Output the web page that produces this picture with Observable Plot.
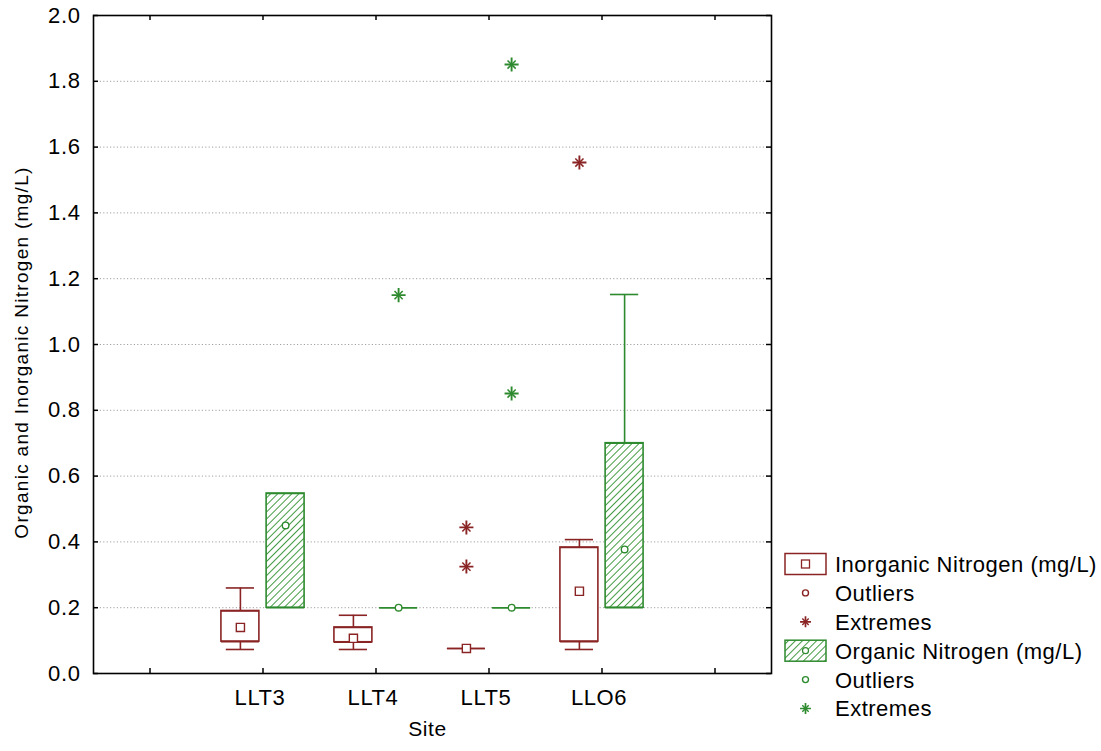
<!DOCTYPE html>
<html>
<head>
<meta charset="utf-8">
<script src="https://cdn.jsdelivr.net/npm/d3@7"></script>
<script src="https://cdn.jsdelivr.net/npm/@observablehq/plot@0.6"></script>
<style>
  body { margin: 0; background: #fff; }
  #wrap { position: relative; width: 1101px; height: 751px; }
  #legend { position: absolute; left: 0; top: 0; pointer-events: none; }
</style>
</head>
<body>
<div id="wrap"></div>
<script>
// ---------------- data ----------------
const sites = ["LLT3", "LLT4", "LLT5", "LLO6"];
const xTickLabels = ["", "LLT3", "LLT4", "LLT5", "LLO6", ""];
const yTickValues = [0, 0.2, 0.4, 0.6, 0.8, 1.0, 1.2, 1.4, 1.6, 1.8, 2.0];
const gridValues = [0.2, 0.4, 0.6, 0.8, 1.0, 1.2, 1.4, 1.6, 1.8];

// Inorganic Nitrogen (mg/L)
const inorgMin    = [0.073, 0.073, 0.076, 0.073];
const inorgQ1     = [0.097, 0.095, 0.076, 0.097];
const inorgMedian = [0.140, 0.107, 0.076, 0.250];
const inorgQ3     = [0.190, 0.140, 0.076, 0.383];
const inorgMax    = [0.260, 0.177, 0.076, 0.407];
const inorgExtremeSites  = ["LLT5", "LLT5", "LLO6"];
const inorgExtremeValues = [0.444, 0.325, 1.553];

// Organic Nitrogen (mg/L)
const orgMin    = [0.200, 0.200, 0.200, 0.200];
const orgQ1     = [0.200, 0.200, 0.200, 0.200];
const orgMedian = [0.450, 0.200, 0.200, 0.377];
const orgQ3     = [0.547, 0.200, 0.200, 0.700];
const orgMax    = [0.547, 0.200, 0.200, 1.152];
const orgExtremeSites  = ["LLT4", "LLT5", "LLT5"];
const orgExtremeValues = [1.150, 1.851, 0.851];

const legendLabels = ["Inorganic Nitrogen (mg/L)", "Outliers", "Extremes",
                      "Organic Nitrogen (mg/L)", "Outliers", "Extremes"];
const yTitle = "Organic and Inorganic Nitrogen (mg/L)";
const xTitle = "Site";

// ---------------- styling / layout ----------------
const RED = "#8a2424";
const GREEN = "#2e8a2e";
const HATCH = "#3a963a";
const FONT = "'Liberation Sans', Arial, sans-serif";
const W = 1101, H = 751;
const mL = 93, mR = 330, mT = 15, mB = 78;
const plotW = W - mL - mR, plotH = H - mT - mB;
const OFF = 0.2, HALF = 0.168, CAP = 0.125;

const siteIndex = s => sites.indexOf(s) + 1;
function rows(mins, q1s, meds, q3s, maxs, off) {
  return sites.map((s, i) => ({site: s, pos: i + 1 + off, min: mins[i], q1: q1s[i], med: meds[i], q3: q3s[i], max: maxs[i]}));
}
const inorg = rows(inorgMin, inorgQ1, inorgMedian, inorgQ3, inorgMax, -OFF);
const org = rows(orgMin, orgQ1, orgMedian, orgQ3, orgMax, OFF);
const inorgExt = inorgExtremeSites.map((s, i) => ({pos: siteIndex(s) - OFF, value: inorgExtremeValues[i]}));
const orgExt = orgExtremeSites.map((s, i) => ({pos: siteIndex(s) + OFF, value: orgExtremeValues[i]}));

function boxMarks(data, color, fill, medSymbol, medR) {
  const up = data.filter(d => d.max > d.q3);
  const lo = data.filter(d => d.min < d.q1);
  return [
    Plot.ruleX(up, {x: "pos", y1: "q3", y2: "max", stroke: color, strokeWidth: 1.6}),
    Plot.ruleY(up, {y: "max", x1: d => d.pos - CAP, x2: d => d.pos + CAP, stroke: color, strokeWidth: 1.6}),
    Plot.ruleX(lo, {x: "pos", y1: "q1", y2: "min", stroke: color, strokeWidth: 1.6}),
    Plot.ruleY(lo, {y: "min", x1: d => d.pos - CAP, x2: d => d.pos + CAP, stroke: color, strokeWidth: 1.6}),
    Plot.rect(data.filter(d => d.q3 > d.q1), {x1: d => d.pos - HALF, x2: d => d.pos + HALF, y1: "q1", y2: "q3", fill, stroke: color, strokeWidth: 1.6}),
    Plot.ruleY(data, {y: "q1", x1: d => d.pos - HALF, x2: d => d.pos + HALF, stroke: color, strokeWidth: 1.6}),
    Plot.ruleY(data, {y: "q3", x1: d => d.pos - HALF, x2: d => d.pos + HALF, stroke: color, strokeWidth: 1.6}),
    Plot.dot(data, {x: "pos", y: "med", symbol: medSymbol, r: medR, fill: "white", stroke: color, strokeWidth: 1.4})
  ];
}
function extremeMarks(data, color) {
  return [
    Plot.dot(data, {x: "pos", y: "value", symbol: "plus", r: 4.6, stroke: color, strokeWidth: 1.9}),
    Plot.dot(data, {x: "pos", y: "value", symbol: "times", r: 3.8, stroke: color, strokeWidth: 1.5})
  ];
}

const xPositions = xTickLabels.map((_, i) => i);

const chart = Plot.plot({
  width: W, height: H,
  marginLeft: mL, marginRight: mR, marginTop: mT, marginBottom: mB,
  style: {fontFamily: FONT, fontSize: "22px", background: "white", color: "black"},
  x: {type: "linear", domain: [-0.5, 5.5]},
  y: {type: "linear", domain: [0, 2]},
  marks: [
    Plot.ruleY(gridValues, {stroke: "#a0a0a0", strokeDasharray: "1.2,2.2", strokeWidth: 1}),
    ...boxMarks(org, GREEN, "url(#hatch)", "circle", 3.3),
    ...boxMarks(inorg, RED, "white", "square", 4.6),
    ...extremeMarks(inorgExt, RED),
    ...extremeMarks(orgExt, GREEN),
    Plot.frame({stroke: "black", strokeWidth: 1.6}),
    Plot.tickY(yTickValues, {y: d => d, insetRight: plotW - 5, stroke: "black", strokeWidth: 1.5}),
    Plot.tickY(yTickValues, {y: d => d, insetLeft: plotW - 5, stroke: "black", strokeWidth: 1.5}),
    Plot.tickX(xPositions, {x: d => d, insetTop: plotH - 5, stroke: "black", strokeWidth: 1.5}),
    Plot.tickX(xPositions, {x: d => d, insetBottom: plotH - 5, stroke: "black", strokeWidth: 1.5}),
    Plot.axisY(yTickValues, {tickSize: 0, tickPadding: 13, tickFormat: d => d.toFixed(1), label: null, fontSize: 22}),
    Plot.axisX(xPositions, {tickSize: 0, tickPadding: 16, dx: -3, tickFormat: i => xTickLabels[i], label: null, fontSize: 22}),
    Plot.text([yTitle], {frameAnchor: "left", textAnchor: "middle", dx: -72, dy: 8, rotate: -90, fontSize: 19, fill: "black"}),
    Plot.text([xTitle], {frameAnchor: "bottom", textAnchor: "middle", dy: 62, dx: -5, fontSize: 21, fill: "black"})
  ]
});

d3.select(chart).insert("defs", ":first-child").html(
  `<pattern id="hatch" patternUnits="userSpaceOnUse" width="5" height="5" patternTransform="rotate(45)">
     <rect width="5" height="5" fill="white"/>
     <line x1="0" y1="0" x2="0" y2="5" stroke="${HATCH}" stroke-width="1.9"/>
   </pattern>`);
// letter spacing to match the wide rendering of the reference
d3.select(chart).selectAll("text").attr("letter-spacing", "0.6px");
d3.select(chart).selectAll("text").filter(function() { return this.textContent === yTitle; }).attr("letter-spacing", "1.3px");

document.getElementById("wrap").appendChild(chart);

// ---------------- legend ----------------
const leg = d3.select("#wrap").append("svg").attr("id", "legend")
  .attr("width", W).attr("height", H)
  .style("font-family", FONT).style("font-size", "22px");
leg.append("defs").html(
  `<pattern id="hatchLeg" patternUnits="userSpaceOnUse" width="5" height="5" patternTransform="rotate(45)">
     <rect width="5" height="5" fill="white"/>
     <line x1="0" y1="0" x2="0" y2="5" stroke="${HATCH}" stroke-width="1.9"/>
   </pattern>`);
const legX = 785, legIconW = 41, legIconH = 21, legTextX = 835, legTop = 564, legStep = 28.9;
legendLabels.forEach((label, i) => {
  const y = legTop + i * legStep;
  const color = i < 3 ? RED : GREEN;
  const kind = i % 3;
  const cx = legX + legIconW / 2;
  if (kind === 0) {
    leg.append("rect").attr("x", legX).attr("y", y - legIconH / 2).attr("width", legIconW).attr("height", legIconH)
      .attr("fill", i < 3 ? "white" : "url(#hatchLeg)").attr("stroke", color).attr("stroke-width", 1.5);
    if (i < 3) {
      leg.append("rect").attr("x", cx - 4).attr("y", y - 4).attr("width", 8).attr("height", 8)
        .attr("fill", "white").attr("stroke", color).attr("stroke-width", 1.3);
    } else {
      leg.append("circle").attr("cx", cx).attr("cy", y).attr("r", 3).attr("fill", "white").attr("stroke", color).attr("stroke-width", 1.2);
    }
  } else if (kind === 1) {
    leg.append("circle").attr("cx", cx).attr("cy", y).attr("r", 3).attr("fill", "none").attr("stroke", color).attr("stroke-width", 1.4);
  } else {
    leg.append("path").attr("transform", `translate(${cx},${y})`)
      .attr("d", d3.symbol(d3.symbolPlus, Math.PI * 13)()).attr("stroke", color).attr("stroke-width", 1.7).attr("fill", "none");
    leg.append("path").attr("transform", `translate(${cx},${y})`)
      .attr("d", d3.symbol(d3.symbolTimes, Math.PI * 9)()).attr("stroke", color).attr("stroke-width", 1.4).attr("fill", "none");
  }
  leg.append("text").attr("x", legTextX).attr("y", y).attr("dy", "0.36em").attr("fill", "black")
    .attr("letter-spacing", "0.5px").text(label);
});
</script>
</body>
</html>
